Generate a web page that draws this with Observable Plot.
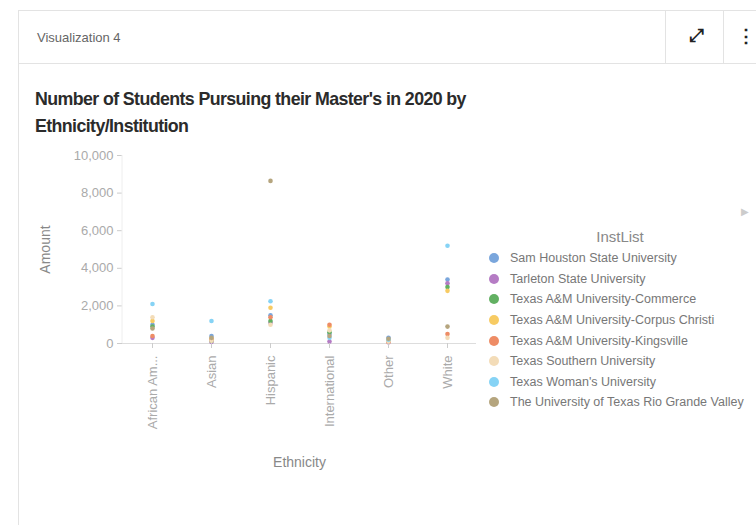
<!DOCTYPE html>
<html><head><meta charset="utf-8">
<script src="https://cdn.jsdelivr.net/npm/d3@7"></script>
<script src="https://cdn.jsdelivr.net/npm/@observablehq/plot@0.6"></script>
<style>
body{margin:0;background:#fff;font-family:"Liberation Sans",Arial,sans-serif;width:756px;height:525px;overflow:hidden;position:relative}
#card{position:absolute;left:18px;top:10px;width:760px;height:540px;border:1px solid #e3e3e3;box-sizing:border-box}
#hdr{position:absolute;left:0;top:0;right:0;height:52px;border-bottom:1px solid #e3e3e3}
#hdr .t{position:absolute;left:18px;top:19px;font-size:13px;color:#666}
.sep{position:absolute;top:0;height:52px;border-left:1px solid #e3e3e3}
.ico{position:absolute;top:14px;font-size:18px;color:#222;font-weight:bold}
#title{position:absolute;left:35px;top:86px;font-size:17.8px;font-weight:bold;color:#2b2b2b;line-height:24.5px;letter-spacing:-0.6px;transform:scaleY(1.08);transform-origin:left top}
#chart{position:absolute;left:18px;top:145px}
#legend{position:absolute;left:486px;top:228px;font-size:12.5px;color:#777}
#legend .lt{font-size:15px;color:#888;text-align:center;width:268px;margin-bottom:3px}
#legend .it{height:20.6px;display:flex;align-items:center;white-space:nowrap}
#legend .sw{width:10px;height:10px;border-radius:50%;margin-left:3px;margin-right:11px}
#arrow{position:absolute;left:741px;top:206px;color:#ccc;font-size:10px}
</style></head><body>
<div id="card"><div id="hdr"><div class="t">Visualization 4</div>
<div class="sep" style="left:646px"></div><div class="sep" style="left:704px"></div>
<div class="ico" style="left:670px">&#x2922;</div><div class="ico" style="left:718px">&#x22EE;</div></div></div>
<div id="title">Number of Students Pursuing their Master's in 2020 by<br>Ethnicity/Institution</div>
<div id="chart"></div>
<div id="legend"></div>
<div id="arrow">&#x25B6;</div>
<script>
const ethnicities = ["African American","Asian","Hispanic","International","Other","White"];
const ethnicityLabels = ["African Am...","Asian","Hispanic","International","Other","White"];
const institutions = [
  "Sam Houston State University",
  "Tarleton State University",
  "Texas A&M University-Commerce",
  "Texas A&M University-Corpus Christi",
  "Texas A&M University-Kingsville",
  "Texas Southern University",
  "Texas Woman's University",
  "The University of Texas Rio Grande Valley"
];
const instColors = ["#7aa6dc","#b57cc4","#62b062","#f7cb63","#ee8c65","#f3dcb8","#86d3f5","#b5a57e"];
// values per institution, in ethnicity order
const samHouston    = [1000, 400, 1500, 500, 300, 3400];
const tarleton      = [300, 80, 1100, 100, 60, 3200];
const commerce      = [900, 150, 1200, 600, 150, 3000];
const corpusChristi = [1200, 250, 1900, 900, 120, 2800];
const kingsville    = [400, 200, 1400, 1000, 80, 500];
const texasSouthern = [1400, 150, 1000, 700, 100, 300];
const texasWomans   = [2100, 1200, 2250, 300, 200, 5200];
const utrgv         = [800, 300, 8650, 400, 250, 900];
const series = [samHouston, tarleton, commerce, corpusChristi, kingsville, texasSouthern, texasWomans, utrgv];

const data = [];
series.forEach((vals, i) => vals.forEach((v, j) => data.push({inst: institutions[i], eth: ethnicities[j], amount: v})));

const chart = Plot.plot({
  width: 470, height: 328,
  marginLeft: 104, marginRight: 12, marginTop: 10, marginBottom: 130,
  style: {fontFamily: "Liberation Sans, Arial, sans-serif", fontSize: "13px", color: "#aaa", background: "transparent"},
  x: {domain: ethnicities, padding: 0.5, label: null},
  y: {domain: [0, 10000], label: null},
  color: {domain: institutions, range: instColors},
  marks: [
    Plot.ruleY([0], {stroke: "#ddd"}),
    Plot.dot(data, {x: "eth", y: "amount", fill: "inst", r: 2.3}),
    Plot.axisX({tickRotate: -90, tickSize: 5, tickPadding: 7, stroke: "#ccc", fill: "#aaa", fontSize: 13,
      tickFormat: d => ethnicityLabels[ethnicities.indexOf(d)], label: "Ethnicity", labelAnchor: "center", labelOffset: 123, labelArrow: "none"}),
    Plot.axisY({ticks: [0,2000,4000,6000,8000,10000], tickFormat: d3.format(","), tickSize: 5, stroke: "#ccc", fill: "#aaa", fontSize: 13,
      label: "Amount", labelAnchor: "center", labelOffset: 82, labelArrow: "none"})
  ]
});
document.getElementById("chart").appendChild(chart);
// vertical y axis line
d3.select(chart).append("line").attr("x1",104).attr("x2",104).attr("y1",10).attr("y2",198).attr("stroke","#eee");
d3.select(chart).selectAll("[aria-label='x-axis label'] text, [aria-label='y-axis label'] text, [aria-label='x-axis label'], [aria-label='y-axis label']").attr("fill","#888").style("font-size","14px");

const lg = d3.select("#legend");
lg.append("div").attr("class","lt").text("InstList");
institutions.forEach((n, i) => {
  const it = lg.append("div").attr("class","it");
  it.append("div").attr("class","sw").style("background", instColors[i]);
  it.append("span").text(n);
});
</script>
</body></html>
